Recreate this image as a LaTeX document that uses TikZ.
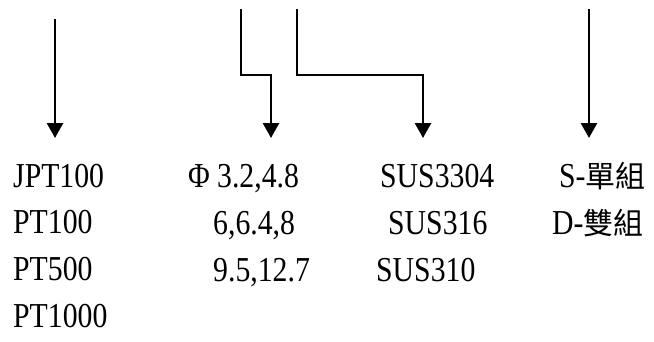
\documentclass[tikz,border=0pt]{standalone}
\usepackage{fontspec}
\setmainfont{Liberation Serif}[FakeStretch=0.85]
\newfontfamily\cjk{Noto Sans CJK TC}
\usetikzlibrary{arrows.meta}
\tikzset{
  >={Triangle[length=15pt,width=16pt]},
  lead/.style={->,line width=2.6pt},
  spec/.style={anchor=base west,inner sep=0pt,font=\fontsize{35}{40}\selectfont},
}
\newcommand{\zh}[1]{{\cjk\fontsize{30}{36}\selectfont #1}}

\begin{document}
\begin{tikzpicture}[x=1pt,y=-1pt]
  \useasboundingbox (0,0) rectangle (654,341);
  % sensor types
  \foreach \t [count=\i] in {JPT100,PT100,PT500,PT1000}
    \node[spec] (sen\i) at (13,{187+46.7*(\i-1)}) {\t};
  % diameters
  \node[spec] (dia1) at (188,187) {\makebox[29pt][l]{Φ}3.2,4.8};
  \node[spec] (dia2) at (213,234) {6,6.4,8};
  \node[spec] (dia3) at (213,281) {9.5,12.7};
  % sheath material
  \node[spec] (mat1) at (380,187) {SUS3304};
  \node[spec] (mat2) at (388,234) {SUS316};
  \node[spec] (mat3) at (376,281) {SUS310};
  % element groups
  \node[spec] (grp1) at (559,187) {S-\zh{單組}};
  \node[spec] (grp2) at (552,234) {D-\zh{雙組}};
  % leader lines
  \coordinate (a1) at (55,19);  \coordinate (t1) at (55,138);
  \coordinate (a2) at (241,9);  \coordinate (j2) at (271,75);  \coordinate (t2) at (271,138);
  \coordinate (a3) at (297,9);  \coordinate (j3) at (423,75);  \coordinate (t3) at (423,138);
  \coordinate (a4) at (589,9);  \coordinate (t4) at (589,138);
  \draw[lead] (a1) -- (t1);
  \draw[lead] (a2) |- (j2) -- (t2);
  \draw[lead] (a3) |- (j3) -- (t3);
  \draw[lead] (a4) -- (t4);
\end{tikzpicture}
\end{document}
